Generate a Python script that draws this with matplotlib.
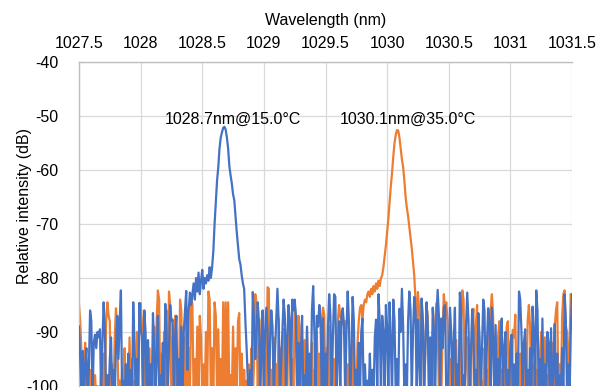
import numpy as np
import matplotlib
matplotlib.use("Agg")
import matplotlib.pyplot as plt

plt.rcParams['font.family'] = ['Liberation Sans', 'DejaVu Sans']
plt.rcParams['axes.unicode_minus'] = False

F = -102.0  # noise floor (below axis)

wl_start, wl_stop, wl_step = 1027.5, 1031.5, 0.01
wavelength = np.round(np.arange(wl_start, wl_stop + wl_step / 2, wl_step), 3)

blue_db = [
    -89, -95, F, -93.5, F, -96, -93, F, -97, -86, -88, F, -92, -90.5, -93, -90, -91, -89.5, F, -92,
    -84.5, -90, F, -98, F, -95, -91, F, -97, F, -93, -87, -95, -88, -82.3, F, -99, F, -96, F,
    -94, F, -97, F, -84.5, -92, F, -95, F, -84.6, -89, -91, F, -86, -90, F, -91.5, F, -96, F,
    -86.5, -93, F, -94, -87, F, -98, F, -92, F, -84.8, -90, F, -93, -85, -88, -87.7, F, -91, -87,
    F, -95, F, -89, F, -90, -86, -82.4, -97, -86, -82.7, -85, -83, -81, -84, -80, -82.5, -79, -83, -80.5,
    -78.5, -82, -80, -81, -79.5, -80.5, -78, -80, -78, -75, -70, -66, -62, -59.5, -56, -54, -53, -52.2, -52, -52.5,
    -54, -56, -59.3, -61, -62.5, -64.5, -65.6, -68.5, -71.5, -74, -76.5, -77.5, -79.5, -81, -82, -88, -93, -99, F, -97,
    F, -82.6, -88, -95, -90, -84.5, -88, F, -93, -86, F, -90, -85.5, -90, F, -92, -86, -89, F, -94,
    -88, -82, -88, F, -96, -90, -84, -87, F, -91, -85, -88, F, -84, -86, -84, -87, F, -92, F,
    -95, -87, F, -98, F, -89, F, -94, F, -86, -81.5, -90, F, -87, -89, -85, -88, F, -87.5, F,
    -94, F, -89, -83, -87, F, -91, -83, -83.5, F, -93, -88, F, -87, -85.6, -89, F, -90, -82.5, -88,
    F, -95, -83.5, -88, F, -97, F, -92, F, -90, -87.5, F, -96, F, -99, F, -94, F, -97, F,
    -91, -87.7, F, -83, -88, F, -87, -90, F, -85, -89, F, -84.5, -92, F, -84, -88, F, -95, F,
    -85.7, -90, -82, -89, F, -96, F, -88, -82.5, -86, F, -90, -83.5, -86, F, -87.7, -95, F, -83.8, -88,
    F, -93, -84.5, -89, F, -91, F, -85.5, -90, F, -87, -82.2, -87, F, -87.5, -93, -85.5, -85, F, F,
    -95, -85.5, -90, F, -92, -85.5, F, -96, F, -82.7, -86, F, -98, F, -89, -82.7, -88, F, -94, -85.8,
    -90, F, -97, F, -86.5, -91, F, -93, -84, -86, F, -92, -85.6, -88, F, -85.5, -91, F, -88.7, F,
    -95, F, -90, -87.5, F, -93, -90, F, -97, F, -92, -90.5, F, -96, F, -94, F, -82.5, -84, -90,
    F, -92, -89.5, F, -97, F, -93, F, -85.3, -90, F, -82.3, -86, F, -95, F, -87.5, F, -96, F,
    -90, -92, F, -89.3, F, -97, -88.5, F, -94, F, -98, F, -93, F, -83, -88, F, -96, F, -90,
    -83,
]

orange_db = [
    -85, -88, -94, F, -96, -92, F, -99, F, -97, F, -95, F, -98, F, -100, F, F, -97, F,
    -94, F, -88, -84.5, -87, -88, F, -96, F, -91, -85.6, -89, F, -99, F, -97, F, -93, F, -96,
    F, -91, F, -95, F, -99, F, -90, F, -86, -84.7, -88, F, -92, F, -96, F, -93, F, -97,
    F, -89, F, -88, -82.3, -84, F, -94, F, -90, F, -86, F, -82.5, -85, F, -91, F, -87, F,
    -96, F, -84, -86, F, -91, F, -88, F, -93, F, -83, -85, F, -95, F, -89, F, -87, -91,
    F, -96, F, -90, F, -82.5, -84, F, -93, F, -84.5, -87, F, -89.5, F, -95, F, -84.5, F, -84.5,
    F, -84.5, F, -98, F, -89, F, -93, F, -88, -86.5, F, -94, F, -97, F, -99, F, -96, F,
    -93, F, -96, -83, -84.5, F, -92, F, -88, -86.5, F, -94, F, -81.7, -82, F, -97, F, -91, F,
    -96, F, -87.5, F, -93, F, -89.5, F, -98, F, -85.5, -89, F, -95, F, -85, -88, F, -87, -89,
    F, -97, F, -91.5, F, -89.5, F, -96, F, -92, F, -97, F, -90, F, -94, F, -88, -85.5, -87,
    F, -93, F, -89, F, -98, F, -95, F, -92, -88, -85, -87, -88.5, -87, -89, -88, F, -96, F,
    -93, F, -91.5, F, -97, F, -92, -88, -85.5, -85, -87.7, -85, -84, -84.5, -83, -82.5, -83.5, -82, -83, -81.5,
    -82.5, -81, -82, -80.5, -81.5, -80, -79.5, -78, -76, -74, -71.5, -69, -66, -63, -60.5, -57.5, -55, -53.5, -52.6, -52.7,
    -54, -56, -58, -59.5, -62, -65, -67, -68.5, -70.5, -72.5, -74.5, -77, -79.5, -84, -88, -82.6, -86, F, -84.3, -88,
    F, -93, -85.2, -87, F, -96, F, -90, F, -88, -84.7, -88, F, -97, F, -90, -83, -86, -84.5, -88,
    F, -95, F, -98, F, -93, -91.5, F, -96, F, -88, -82.3, -84, F, -94, -91, F, -97, F, -88,
    -85.7, F, -89, -85, F, -96, F, -99, F, -93, F, -97, F, -90, -86, -83, -87, F, -94, F,
    -91, -88, F, -97, F, -93, F, -89, -88, F, -95, F, -89.6, -91, -86.8, F, -98, F, -94, F,
    -97, F, -92, F, -88, -85, -89, F, -96, F, -93, F, -97, F, -94, -90, F, -95, -91, F,
    -98, F, -94, F, -92, F, -89, -86, -84.5, F, -96, F, -87, -83, -82.3, -89, -90, F, -92, -83,
    -85,
]

peak_labels = ["1028.7nm@15.0°C", "1030.1nm@35.0°C"]
peak_label_wl = [1028.745, 1030.165]
peak_label_db = [-50.6, -50.6]

x_ticks = [1027.5, 1028, 1028.5, 1029, 1029.5, 1030, 1030.5, 1031, 1031.5]
x_tick_labels = ["1027.5", "1028", "1028.5", "1029", "1029.5", "1030", "1030.5", "1031", "1031.5"]
y_ticks = [-100, -90, -80, -70, -60, -50, -40]

BLUE = "#4472C4"
ORANGE = "#ED7D31"

fig = plt.figure(figsize=(6.09, 3.90), dpi=100)
ax = fig.add_axes([79 / 609, 4 / 390, (572 - 79) / 609, (386 - 62) / 390])

ax.plot(wavelength, blue_db, color=BLUE, lw=1.6, solid_joinstyle='round', zorder=3)
ax.plot(wavelength, orange_db, color=ORANGE, lw=1.6, solid_joinstyle='round', zorder=2)

ax.set_xlim(1027.5, 1031.5)
ax.set_ylim(-100, -40)
ax.set_xticks(x_ticks)
ax.set_xticklabels(x_tick_labels)
ax.set_yticks(y_ticks)
ax.xaxis.tick_top()
ax.xaxis.set_label_position('top')
ax.tick_params(axis='both', length=0, labelsize=11.5, colors='black')
ax.tick_params(axis='x', pad=8)
ax.tick_params(axis='y', pad=15)
ax.set_xlabel("Wavelength (nm)", fontsize=11.5, labelpad=8)
fig.text(25 / 609, 1 - 206.5 / 390, "Relative intensity (dB)", rotation=90,
         ha='center', va='center', fontsize=11.5)

ax.grid(True, color="#D9D9D9", lw=0.9)
ax.set_axisbelow(True)
for side in ['right', 'bottom']:
    ax.spines[side].set_visible(False)
for side in ['top', 'left']:
    ax.spines[side].set_color("#BFBFBF")
    ax.spines[side].set_linewidth(1.0)

for txt, x, y in zip(peak_labels, peak_label_wl, peak_label_db):
    ax.text(x, y, txt, ha='center', va='center', fontsize=11.5, color='black', zorder=5)

fig.savefig("out.png", dpi=100)
